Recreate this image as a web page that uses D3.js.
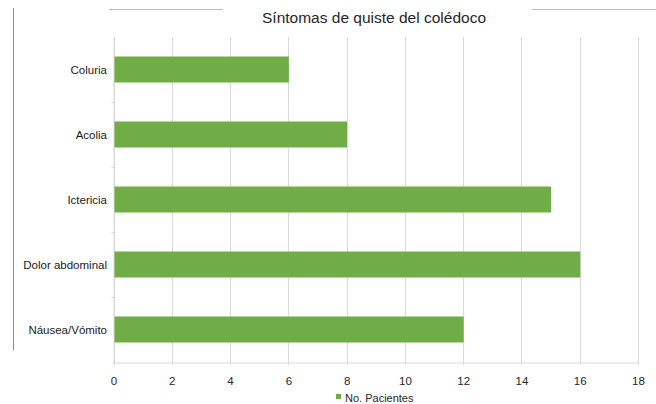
<!DOCTYPE html>
<html>
<head>
<meta charset="utf-8">
<script src="https://cdn.jsdelivr.net/npm/d3@7/dist/d3.min.js"></script>
<style>
  html, body { margin: 0; padding: 0; background: #fff; }
  svg { display: block; font-family: "Liberation Sans", Arial, sans-serif; }
</style>
</head>
<body>
<svg id="chart" width="656" height="404"></svg>
<script>
// Symptoms and number of patients
const categories = ["Coluria", "Acolia", "Ictericia", "Dolor abdominal", "Náusea/Vómito"];
const pacientes = [6, 8, 15, 16, 12];
const xTicks = [0, 2, 4, 6, 8, 10, 12, 14, 16, 18];
const seriesName = "No. Pacientes";
const title = "Síntomas de quiste del colédoco";

const svg = d3.select("#chart");
const plot = { left: 113.5, right: 638, top: 37, bottom: 362 };
const green = "#70ad47";
const gridColor = "#d9d9d9";

// Frame fragments around the chart area
svg.append("line").attr("x1", 13.5).attr("x2", 13.5).attr("y1", 8).attr("y2", 350)
  .attr("stroke", "#8c8c8c").attr("stroke-width", 1);
svg.append("line").attr("x1", 109).attr("x2", 223).attr("y1", 9.5).attr("y2", 9.5)
  .attr("stroke", "#bfbfbf").attr("stroke-width", 1);
svg.append("line").attr("x1", 532).attr("x2", 656).attr("y1", 9.5).attr("y2", 9.5)
  .attr("stroke", "#bfbfbf").attr("stroke-width", 1);

const x = d3.scaleLinear().domain([0, 18]).range([plot.left, plot.right]);
const y = d3.scaleBand().domain(categories).range([plot.top, plot.bottom]).paddingInner(0.6).paddingOuter(0.3);
const yBand = d3.scaleBand().domain(categories).range([plot.top, plot.bottom]);

// Vertical gridlines
svg.append("g").selectAll("line").data(xTicks).join("line")
  .attr("x1", d => Math.round(x(d)) + 0.5).attr("x2", d => Math.round(x(d)) + 0.5)
  .attr("y1", plot.top).attr("y2", plot.bottom + 3)
  .attr("stroke", gridColor).attr("stroke-width", 1);

// Bars
svg.append("g").selectAll("rect").data(categories).join("rect")
  .attr("x", x(0) + 0.5)
  .attr("y", d => y(d))
  .attr("width", (d, i) => x(pacientes[i]) - x(0))
  .attr("height", y.bandwidth())
  .attr("fill", green);

// Bottom axis
const xAxis = svg.append("g").attr("transform", `translate(0,${plot.bottom + 0.5})`)
  .call(d3.axisBottom(x).tickValues(xTicks).tickSize(0).tickPadding(14));
xAxis.select(".domain").attr("stroke", gridColor);
xAxis.selectAll("text").attr("font-size", 11.5).attr("fill", "#262626")
  .attr("font-family", "Liberation Sans, Arial, sans-serif");

// Left axis with category labels and boundary ticks
svg.append("line").attr("x1", plot.left + 0.5).attr("x2", plot.left + 0.5)
  .attr("y1", plot.top).attr("y2", plot.bottom + 3).attr("stroke", gridColor);
svg.append("g").selectAll("line").data(categories.slice(1)).join("line")
  .attr("x1", plot.left - 2).attr("x2", plot.left + 0.5)
  .attr("y1", d => yBand(d) + 0.5).attr("y2", d => yBand(d) + 0.5)
  .attr("stroke", gridColor);
svg.append("g").selectAll("text").data(categories).join("text")
  .attr("x", 107)
  .attr("y", d => yBand(d) + yBand.bandwidth() / 2)
  .attr("dy", "0.35em")
  .attr("text-anchor", "end")
  .attr("font-size", 11.5)
  .attr("fill", "#1a1a1a")
  .text(d => d);

// Title
svg.append("text").attr("x", 374).attr("y", 23).attr("text-anchor", "middle")
  .attr("font-size", 15.5).attr("fill", "#262626").text(title);

// Legend
const legend = svg.append("g").attr("transform", "translate(336,394)");
legend.append("rect").attr("width", 5).attr("height", 5).attr("fill", green);
legend.append("text").attr("x", 9).attr("y", 7.5).attr("font-size", 11)
  .attr("fill", "#262626").text(seriesName);
</script>
</body>
</html>
